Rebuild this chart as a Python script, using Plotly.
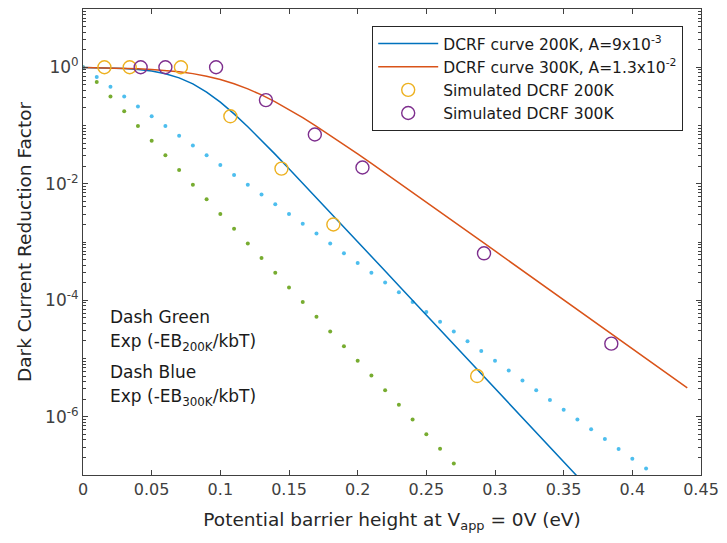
import plotly.graph_objects as go

# ---- data ----
curve_x = [round(0.01 * i, 2) for i in range(0, 45)]
dcrf_200k = [0.99108, 0.98418, 0.97208, 0.95120, 0.91604, 0.85930, 0.77369, 0.65681, 0.51722, 0.37488,
             0.25133, 0.15820, 0.095184, 0.055611, 0.031911, 0.018118, 0.010226, 0.0057488, 0.0032263, 0.0018086,
             0.0010132, 5.6746e-4, 3.1773e-4, 1.7788e-4, 9.958e-5, 5.5748e-5, 3.1207e-5, 1.7470e-5, 9.7793e-6, 5.4743e-6,
             3.0644e-6, 1.7154e-6, 9.6026e-7, 5.3754e-7, 3.0091e-7, 1.6844e-7, 9.4293e-8]
dcrf_300k = [0.98717, 0.98122, 0.97259, 0.96016, 0.94244, 0.91749, 0.88308, 0.83689, 0.77701, 0.70298,
             0.61652, 0.52202, 0.42583, 0.33500, 0.25494, 0.18858, 0.13634, 0.096839, 0.067883, 0.047134,
             0.032507, 0.022317, 0.015264, 0.010419, 0.0071002, 0.0048339, 0.0032883, 0.0022359, 0.0015197, 0.0010328,
             7.0171e-4, 4.7673e-4, 3.2386e-4, 2.1999e-4, 1.4944e-4, 1.0151e-4, 6.8951e-5, 4.6834e-5, 3.1812e-5, 2.1608e-5,
             1.4677e-5, 9.9686e-6, 6.7709e-6, 4.5990e-6, 3.1238e-6]

dots_x = [round(0.01 * i, 2) for i in range(0, 42)]
exp_200k = [1, 0.55979, 0.31336, 0.17542, 0.098196, 0.054969, 0.030771, 0.017225, 0.0096423, 0.0053976,
            0.0030215, 0.0016914, 9.4681e-4, 5.3001e-4, 2.9669e-4, 1.6608e-4, 9.2971e-5, 5.2044e-5, 2.9133e-5, 1.6308e-5,
            9.1292e-6, 5.1104e-6, 2.8607e-6, 1.6014e-6, 8.9643e-7, 5.0181e-7, 2.8091e-7, 1.5725e-7]
exp_300k = [1, 0.67921, 0.46133, 0.31335, 0.21283, 0.14456, 0.098187, 0.066690, 0.045297, 0.030766,
            0.020897, 0.014194, 0.0096405, 0.0065480, 0.0044475, 0.0030208, 0.0020518, 0.0013936, 9.4655e-4, 6.4291e-4,
            4.3667e-4, 2.9659e-4, 2.0145e-4, 1.3683e-4, 9.2936e-5, 6.3124e-5, 4.2874e-5, 2.9121e-5, 1.9779e-5, 1.3434e-5,
            9.1248e-6, 6.1977e-6, 4.2096e-6, 2.8592e-6, 1.9420e-6, 1.3190e-6, 8.9590e-7, 6.0851e-7, 4.1331e-7, 2.8073e-7,
            1.9067e-7, 1.2951e-7]

sim200_x = [0.0156, 0.034, 0.0713, 0.1073, 0.1445, 0.1823, 0.287]
sim200_y = [1.0, 1.0, 1.0, 0.144, 0.0182, 0.0020, 5.0e-6]
sim300_x = [0.042, 0.060, 0.0969, 0.1332, 0.1688, 0.2035, 0.292, 0.3847]
sim300_y = [1.0, 1.0, 1.0, 0.273, 0.070, 0.019, 6.4e-4, 1.8e-5]

x_ticks = [0, 0.05, 0.1, 0.15, 0.2, 0.25, 0.3, 0.35, 0.4, 0.45]
x_tick_labels = ["0", "0.05", "0.1", "0.15", "0.2", "0.25", "0.3", "0.35", "0.4", "0.45"]
y_ticks = [1e-6, 1e-4, 1e-2, 1]
y_tick_labels = ["10<sup>-6</sup>", "10<sup>-4</sup>", "10<sup>-2</sup>", "10<sup>0</sup>"]

FONT = "DejaVu Sans, Liberation Sans, Arial, sans-serif"
AX = "#404040"

fig = go.Figure()
fig.add_trace(go.Scatter(x=dots_x[:len(exp_200k)], y=exp_200k, mode="markers", showlegend=False,
                         marker=dict(color="#77AC30", size=4)))
fig.add_trace(go.Scatter(x=dots_x, y=exp_300k, mode="markers", showlegend=False,
                         marker=dict(color="#4DBEEE", size=4)))
fig.add_trace(go.Scatter(x=curve_x[:len(dcrf_200k)], y=dcrf_200k, mode="lines",
                         name="DCRF curve 200K, A=9x10<sup>-3</sup>",
                         line=dict(color="#0072BD", width=1.5)))
fig.add_trace(go.Scatter(x=curve_x, y=dcrf_300k, mode="lines",
                         name="DCRF curve 300K, A=1.3x10<sup>-2</sup>",
                         line=dict(color="#D95319", width=1.5)))
fig.add_trace(go.Scatter(x=sim200_x, y=sim200_y, mode="markers", name="Simulated DCRF 200K",
                         marker=dict(symbol="circle-open", color="#EDB120", size=13, line=dict(width=1.4))))
fig.add_trace(go.Scatter(x=sim300_x, y=sim300_y, mode="markers", name="Simulated DCRF 300K",
                         marker=dict(symbol="circle-open", color="#7E2F8E", size=13, line=dict(width=1.4))))

minor_vals = []
for e in range(-7, 1):
    for m in range(1, 10):
        v = m * 10.0 ** e
        if v not in y_ticks:
            minor_vals.append(v)

fig.update_xaxes(range=[0, 0.45], tickvals=x_ticks, ticktext=x_tick_labels,
                 ticks="inside", ticklen=5, tickcolor=AX, showline=True, linecolor=AX, linewidth=1,
                 mirror="ticks", showgrid=False, zeroline=False,
                 tickfont=dict(family=FONT, size=16, color="#404040"),
                 title=dict(text="Potential barrier height at V<sub>app</sub> = 0V (eV)",
                            font=dict(family=FONT, size=18.5, color="#262626"), standoff=14))
fig.update_yaxes(type="log", range=[-7, 1], tickvals=y_ticks, ticktext=y_tick_labels,
                 ticks="inside", ticklen=5, tickcolor=AX, showline=True, linecolor=AX, linewidth=1,
                 mirror="ticks", showgrid=False, zeroline=False,
                 minor=dict(tickmode="array", tickvals=minor_vals, ticks="inside", ticklen=3, tickcolor=AX),
                 tickfont=dict(family=FONT, size=17, color="#404040"),
                 title=dict(text="Dark Current Reduction Factor",
                            font=dict(family=FONT, size=18.5, color="#262626"), standoff=8))

notes = [("Dash Green", 317), ("Exp (-EB<sub>200K</sub>/kbT)", 342),
         ("Dash Blue", 372), ("Exp (-EB<sub>300K</sub>/kbT)", 397)]
for txt, ypx in notes:
    fig.add_annotation(text=txt, xref="paper", yref="paper", x=(108 - 83) / 625, y=(475 - ypx) / 467,
                       xanchor="left", yanchor="middle", showarrow=False,
                       font=dict(family=FONT, size=17, color="#1a1a1a"))

fig.update_layout(
    width=727, height=543,
    margin=dict(l=83, r=19, t=8, b=68),
    plot_bgcolor="white", paper_bgcolor="white",
    legend=dict(x=(690 - 83) / 625, y=(475 - 25) / 467, xanchor="right", yanchor="top",
                bgcolor="white", bordercolor="#262626", borderwidth=1,
                font=dict(family=FONT, size=15.5, color="#1a1a1a"), itemwidth=60),
)

fig.write_html("out.html")
